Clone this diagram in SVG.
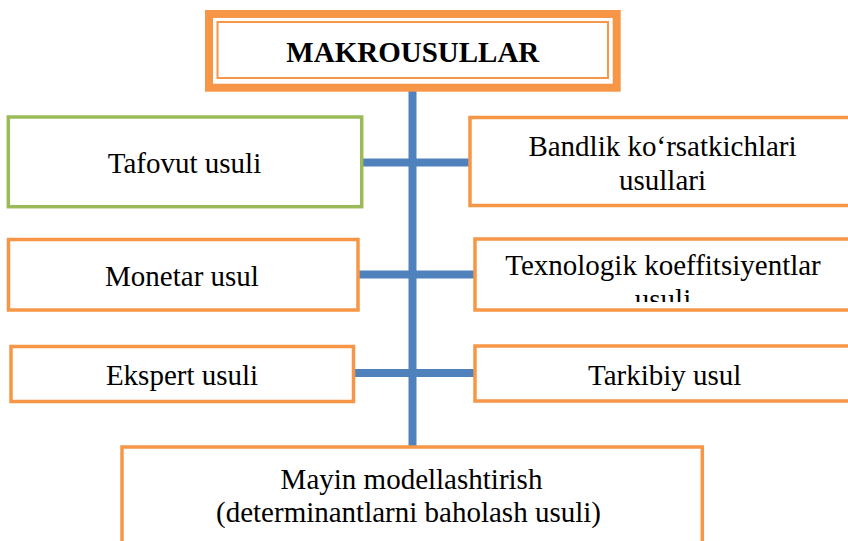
<svg xmlns="http://www.w3.org/2000/svg" width="848" height="541" viewBox="0 0 848 541">
<style>
.box{fill:#fff;stroke:#F79646;stroke-width:3.5}
.gbox{fill:#fff;stroke:#9BBB59;stroke-width:3.5}
.t{font-size:29px;fill:#000;text-anchor:middle}
.b{font-weight:bold}
.conn{stroke:#4F81BD;stroke-width:8;fill:none}
</style>
<defs>
<clipPath id="clipTex"><rect x="477" y="241" width="380" height="61"/></clipPath>
</defs>
<rect width="848" height="541" fill="#fff"/>
<g id="connectors">
<line class="conn" x1="412.5" y1="88" x2="412.5" y2="446"/>
<line class="conn" x1="362" y1="162.5" x2="470" y2="162.5"/>
<line class="conn" x1="358" y1="274.5" x2="475" y2="274.5"/>
<line class="conn" x1="353.5" y1="373" x2="475" y2="373"/>
</g>
<g font-family="Liberation Serif, Times New Roman, Tinos, DejaVu Serif, Noto Serif, serif">
<g id="makrousullar">
<rect x="209" y="14" width="407.7" height="73.7" fill="#fff" stroke="#F79646" stroke-width="8"/>
<rect x="217.5" y="22" width="390.5" height="56" fill="none" stroke="#F79646" stroke-width="2"/>
<text class="t b" x="412.8" y="61.7">MAKROUSULLAR</text>
</g>
<g id="tafovut">
<rect class="gbox" x="8.3" y="117" width="353.4" height="89.7"/>
<text class="t" x="184.5" y="172.7">Tafovut usuli</text>
</g>
<g id="bandlik">
<rect class="box" x="470" y="117.5" width="390" height="88"/>
<text class="t" x="662.5" y="155.7">Bandlik ko‘rsatkichlari</text>
<text class="t" x="662.5" y="190">usullari</text>
</g>
<g id="monetar">
<rect class="box" x="8.5" y="239.5" width="349.5" height="70.5"/>
<text class="t" x="182" y="286">Monetar usul</text>
</g>
<g id="texnologik">
<rect class="box" x="475" y="239" width="385" height="71"/>
<g clip-path="url(#clipTex)">
<text class="t" x="663" y="275">Texnologik koeffitsiyentlar</text>
<text class="t" x="663" y="309">usuli</text>
</g>
</g>
<g id="ekspert">
<rect class="box" x="11" y="346.5" width="342.5" height="55"/>
<text class="t" x="182" y="385">Ekspert usuli</text>
</g>
<g id="tarkibiy">
<rect class="box" x="475" y="346" width="385" height="55"/>
<text class="t" x="664.7" y="385">Tarkibiy usul</text>
</g>
<g id="mayin">
<rect class="box" x="122" y="447" width="580.3" height="110"/>
<text class="t" x="411.5" y="489.3">Mayin modellashtirish</text>
<text class="t" x="408.5" y="521.7">(determinantlarni baholash usuli)</text>
</g>
</g>
</svg>
